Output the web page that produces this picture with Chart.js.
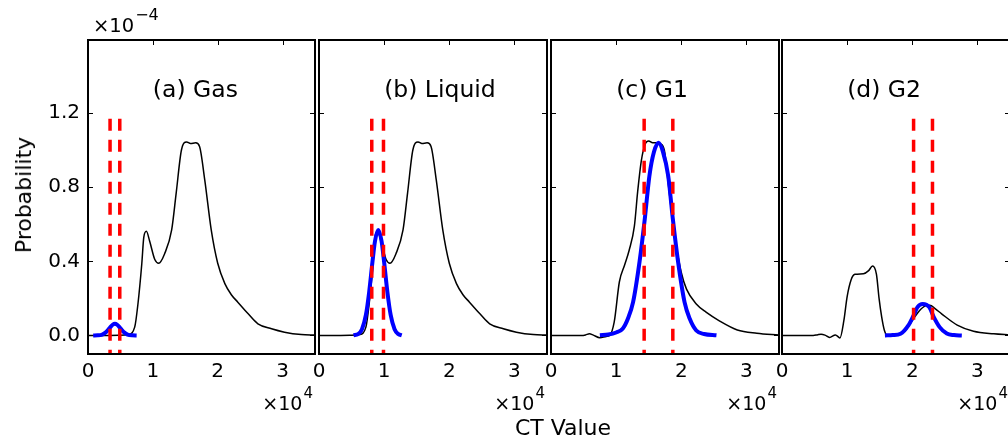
<!DOCTYPE html>
<html lang="en">
<head>
<meta charset="UTF-8">
<title>CT Value distributions</title>
<script src="https://cdn.jsdelivr.net/npm/chart.js@4.4.0/dist/chart.umd.min.js"></script>
<style>
  body { margin: 0; background: #fff; font-family: 'DejaVu Sans', sans-serif; }
  #wrap { position: relative; width: 1008px; height: 444px; overflow: hidden; background: #fff; }
  #wrap canvas { position: absolute; top: 0; }
  .lbl { position: absolute; color: #000; white-space: nowrap; font-size: 22px; line-height: 22px; }
</style>
</head>
<body>
<div id="wrap">
  <canvas id="p0" width="340" height="444" style="left:0px"></canvas>
  <canvas id="p1" width="340" height="444" style="left:231px"></canvas>
  <canvas id="p2" width="340" height="444" style="left:463px"></canvas>
  <canvas id="p3" width="340" height="444" style="left:694px"></canvas>
  <div class="lbl" style="left:24px; top:195px; transform: translate(-50%,-50%) rotate(-90deg);">Probability</div>
  <div class="lbl" style="left:563px; top:417px; transform: translateX(-50%);">CT Value</div>
</div>

<script>
// x in units of 1e4 (CT value), y in units of 1e-4 (probability)
const xTickVals = [0, 1, 2, 3];
const yTickVals = [0, 0.4, 0.8, 1.2];
const titles = ['(a) Gas', '(b) Liquid', '(c) G1', '(d) G2'];

// whole distribution (panels a and b)
const fullX = [0, 0.3, 0.5, 0.62, 0.72, 0.77, 0.83, 0.86, 0.90, 0.95, 1.03, 1.09, 1.18, 1.29, 1.36, 1.44, 1.52, 1.58, 1.66, 1.72, 1.80, 1.90, 2.00, 2.11, 2.21, 2.31, 2.47, 2.62, 2.83, 3.03, 3.29, 3.5];
const fullY = [0, 0, 0.001, 0.005, 0.045, 0.17, 0.39, 0.53, 0.562, 0.51, 0.41, 0.39, 0.44, 0.57, 0.77, 1.00, 1.045, 1.036, 1.04, 1.02, 0.84, 0.57, 0.39, 0.28, 0.22, 0.18, 0.117, 0.063, 0.036, 0.018, 0.005, 0.002];

// G1 part
const g1X = [0, 0.47, 0.53, 0.59, 0.65, 0.75, 0.85, 0.90, 0.97, 1.05, 1.13, 1.20, 1.28, 1.33, 1.385, 1.45, 1.50, 1.56, 1.62, 1.68, 1.74, 1.80, 1.86, 1.92, 2.00, 2.08, 2.23, 2.38, 2.59, 2.86, 3.16, 3.5];
const g1Y = [0, 0, 0.003, 0.009, 0.002, -0.012, -0.005, 0.0, 0.072, 0.29, 0.38, 0.46, 0.59, 0.775, 0.94, 1.036, 1.05, 1.04, 1.04, 1.035, 1.0, 0.82, 0.64, 0.49, 0.34, 0.25, 0.17, 0.126, 0.078, 0.03, 0.012, 0.002];

// G2 part
const g2X = [0, 0.48, 0.54, 0.60, 0.66, 0.73, 0.82, 0.89, 0.95, 1.00, 1.06, 1.12, 1.25, 1.33, 1.39, 1.45, 1.49, 1.53, 1.57, 1.62, 1.75, 1.90, 2.00, 2.10, 2.20, 2.27, 2.35, 2.45, 2.69, 2.94, 3.25, 3.5];
const g2Y = [0, 0, 0.003, 0.007, 0.002, -0.011, 0.003, -0.013, 0.081, 0.21, 0.30, 0.33, 0.333, 0.35, 0.375, 0.33, 0.20, 0.10, 0.03, 0, 0.002, 0.03, 0.08, 0.13, 0.16, 0.163, 0.145, 0.117, 0.056, 0.023, 0.009, 0.003];

// fitted peaks (blue)
const gasFitX = [0.08, 0.15, 0.22, 0.28, 0.33, 0.38, 0.415, 0.45, 0.50, 0.55, 0.61, 0.68, 0.75];
const gasFitY = [0, 0.0006, 0.005, 0.019, 0.039, 0.058, 0.063, 0.058, 0.039, 0.019, 0.005, 0.0006, 0];
const liqFitX = [0.53, 0.60, 0.66, 0.72, 0.77, 0.82, 0.86, 0.91, 0.96, 1.00, 1.05, 1.10, 1.16, 1.22, 1.27];
const liqFitY = [0.001, 0.007, 0.034, 0.111, 0.234, 0.395, 0.51, 0.57, 0.51, 0.395, 0.234, 0.111, 0.034, 0.007, 0.001];
const g1FitX = [0.75, 0.88, 1.00, 1.10, 1.18, 1.26, 1.36, 1.44, 1.51, 1.58, 1.65, 1.72, 1.80, 1.87, 1.95, 2.05, 2.13, 2.23, 2.35, 2.54];
const g1FitY = [0.001, 0.005, 0.016, 0.036, 0.09, 0.18, 0.40, 0.63, 0.86, 0.99, 1.04, 0.99, 0.86, 0.63, 0.40, 0.18, 0.09, 0.027, 0.008, 0.001];
const g2FitX = [1.58, 1.70, 1.82, 1.94, 2.02, 2.08, 2.16, 2.26, 2.33, 2.42, 2.53, 2.64, 2.76];
const g2FitY = [0, 0.002, 0.009, 0.054, 0.108, 0.153, 0.17, 0.153, 0.099, 0.045, 0.01, 0.002, 0];

// thresholds (red dashed)
const gasCut = [0.34, 0.49];
const liqCut = [0.81, 0.99];
const g1Cut = [1.43, 1.87];
const g2Cut = [2.02, 2.31];
const cutTop = 1.17;

const yMin = -0.1, yMax = 1.595, xMax = 3.5;

const pts = (xs, ys) => xs.map((x, i) => ({ x: x, y: ys[i] }));

const panels = [
  { curve: pts(fullX, fullY), fit: pts(gasFitX, gasFitY), cut: gasCut, plotW: 227 },
  { curve: pts(fullX, fullY), fit: pts(liqFitX, liqFitY), cut: liqCut, plotW: 228 },
  { curve: pts(g1X, g1Y), fit: pts(g1FitX, g1FitY), cut: g1Cut, plotW: 228 },
  { curve: pts(g2X, g2Y), fit: pts(g2FitX, g2FitY), cut: g2Cut, plotW: 228 }
];

const FONT = 'DejaVu Sans';

const framePlugin = {
  id: 'frame',
  afterDraw(chart, args, opts) {
    const { ctx, chartArea: a } = chart;
    const x = chart.scales.x, y = chart.scales.y;
    ctx.save();
    ctx.strokeStyle = '#000';
    ctx.fillStyle = '#000';
    ctx.lineWidth = 1;
    ctx.beginPath();
    xTickVals.forEach(v => {
      const px = Math.round(x.getPixelForValue(v)) + 0.5;
      ctx.moveTo(px, a.top); ctx.lineTo(px, a.top + 5);
    });
    yTickVals.forEach(v => {
      const py = Math.round(y.getPixelForValue(v)) + 0.5;
      ctx.moveTo(a.left, py); ctx.lineTo(a.left + 5, py);
      ctx.moveTo(a.right, py); ctx.lineTo(a.right - 5, py);
    });
    ctx.stroke();
    ctx.lineWidth = 2;
    ctx.strokeRect(a.left, a.top, a.right - a.left, a.bottom - a.top);

    // panel title
    ctx.font = '23.5px "' + FONT + '"';
    ctx.textAlign = 'left';
    ctx.textBaseline = 'alphabetic';
    ctx.fillText(opts.title, x.getPixelForValue(1), y.getPixelForValue(1.29));

    // x offset text
    ctx.textAlign = 'right';
    ctx.font = '15px "' + FONT + '"';
    const supW = ctx.measureText('4').width;
    ctx.fillText('4', a.right - 2, 398);
    ctx.font = '19px "' + FONT + '"';
    ctx.fillText('\u00d710', a.right - 3 - supW, 410);

    // y offset text (first panel only)
    if (opts.yOffset) {
      ctx.textAlign = 'left';
      ctx.font = '19.5px "' + FONT + '"';
      ctx.fillText('\u00d710', a.left + 5, 32);
      const w = ctx.measureText('\u00d710').width;
      ctx.font = '16px "' + FONT + '"';
      ctx.fillText('\u22124', a.left + 6 + w, 20);
    }
    ctx.restore();
  }
};

panels.forEach((p, i) => {
  const datasets = [];
  p.cut.forEach(c => {
    datasets.push({
      data: [{ x: c, y: cutTop }, { x: c, y: yMin }],
      borderColor: '#ff0000', borderWidth: 3.5, borderDash: [12, 9],
      pointRadius: 0, order: 0
    });
  });
  datasets.push({
    data: p.fit, borderColor: '#0000ff', borderWidth: 4,
    pointRadius: 0, cubicInterpolationMode: 'monotone', order: 1
  });
  datasets.push({
    data: p.curve, borderColor: '#000000', borderWidth: 1.5,
    pointRadius: 0, cubicInterpolationMode: 'monotone', order: 2
  });

  new Chart(document.getElementById('p' + i), {
    type: 'line',
    data: { datasets: datasets },
    options: {
      responsive: false,
      animation: false,
      events: [],
      layout: { padding: { top: 40, right: 340 - 88 - p.plotW, left: 0, bottom: 0 } },
      plugins: {
        legend: { display: false },
        tooltip: { enabled: false },
        frame: { title: titles[i], yOffset: i === 0 }
      },
      scales: {
        x: {
          type: 'linear', min: 0, max: xMax,
          grid: { display: false, drawTicks: false },
          border: { display: false },
          afterBuildTicks: s => { s.ticks = xTickVals.map(v => ({ value: v })); },
          afterFit: s => { s.height = 90; },
          ticks: {
            autoSkip: false, maxRotation: 0, padding: 6, color: '#000',
            font: { family: FONT, size: 20 },
            callback: v => String(v)
          }
        },
        y: {
          type: 'linear', min: yMin, max: yMax,
          grid: { display: false, drawTicks: false },
          border: { display: false },
          afterBuildTicks: s => { s.ticks = yTickVals.map(v => ({ value: v })); },
          afterFit: s => { s.width = 88; },
          ticks: {
            display: i === 0, padding: 8, color: '#000',
            font: { family: FONT, size: 20 },
            callback: v => v.toFixed(1)
          }
        }
      }
    },
    plugins: [framePlugin]
  });
});
</script>
</body>
</html>
